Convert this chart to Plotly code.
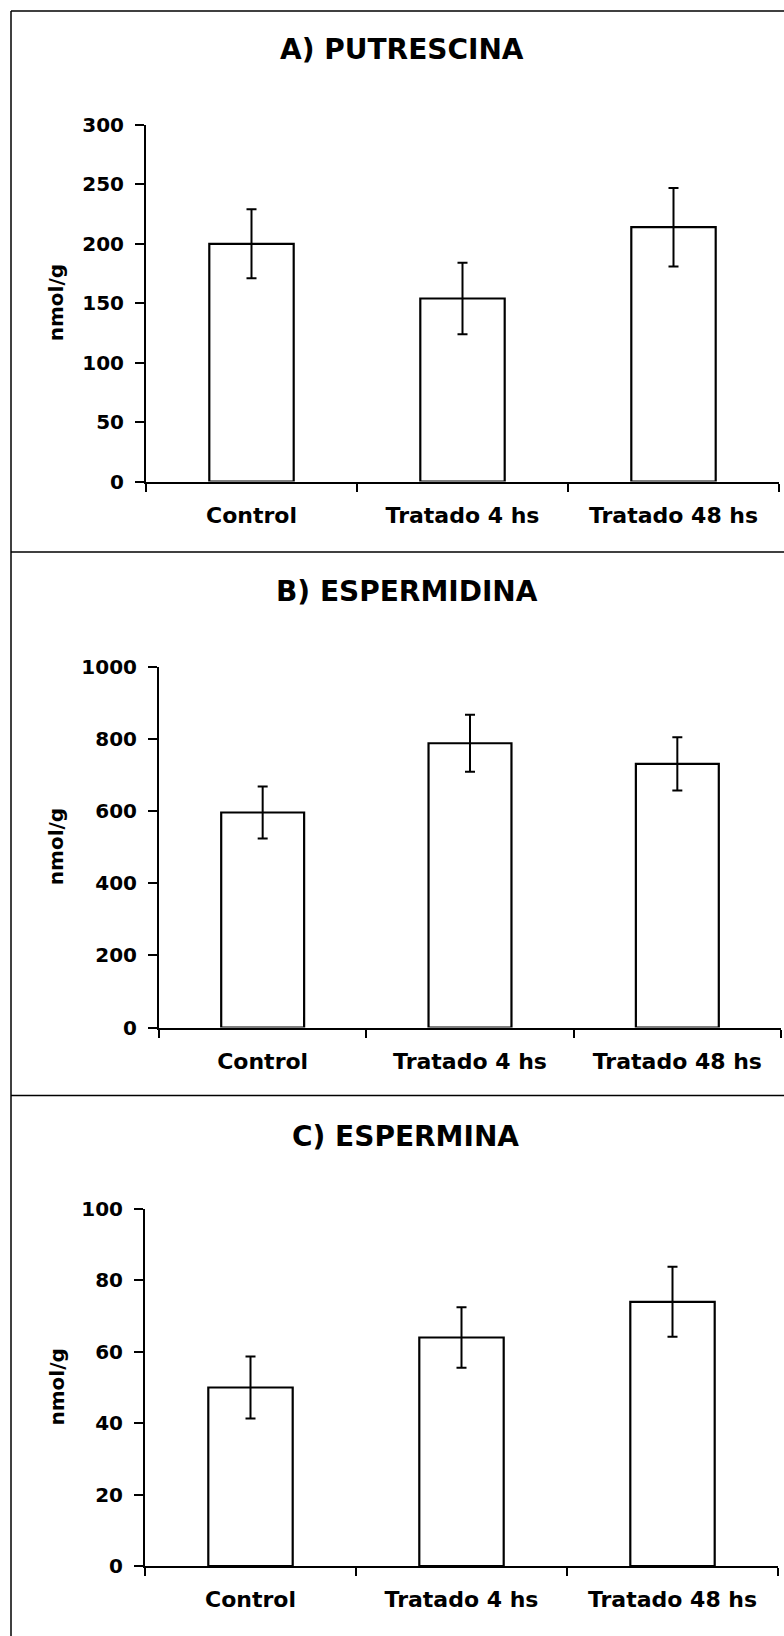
import plotly.graph_objects as go

# ---- data ----
categories = ["Control", "Tratado 4 hs", "Tratado 48 hs"]

putrescina = [200, 154, 214]
putrescina_err = [29, 30, 33]

espermidina = [596, 788, 731]
espermidina_err = [72, 79, 74]

espermina = [50, 64, 74]
espermina_err = [8.7, 8.5, 9.8]

titles = ["A) PUTRESCINA", "B) ESPERMIDINA", "C) ESPERMINA"]
y_title = "nmol/g"
y_ranges = [[0, 300], [0, 1000], [0, 100]]
y_dticks = [50, 200, 20]

W, H = 784, 1636
FONT = "DejaVu Sans, Liberation Sans, Arial, sans-serif"


def px_x(v):
    return v / W


def px_y(v):
    return 1 - v / H


# plot-area boxes in pixels: (left, right, top, bottom)
boxes = [(146, 779, 125, 481.5), (159, 781, 666.8, 1027.5), (145, 778, 1209, 1566)]
title_pos = [(402, 50), (407, 591), (405, 1136)]

series = [(putrescina, putrescina_err), (espermidina, espermidina_err), (espermina, espermina_err)]

fig = go.Figure()
annotations = []
for i, ((vals, errs), box) in enumerate(zip(series, boxes)):
    n = "" if i == 0 else str(i + 1)
    fig.add_trace(go.Bar(
        x=categories, y=vals,
        xaxis="x" + n, yaxis="y" + n,
        width=0.4,
        marker=dict(color="white", line=dict(color="black", width=2.2)),
        error_y=dict(type="data", array=errs, visible=True, color="black", thickness=2, width=5),
        showlegend=False,
    ))
    l, r, t, b = box
    fig.update_layout(**{
        "xaxis" + n: dict(
            domain=[px_x(l), px_x(r)], anchor="y" + n,
            type="category", range=[-0.5, 2.5], automargin=False,
            showline=True, linecolor="black", linewidth=2,
            ticks="outside", tickson="boundaries", ticklen=8, tickwidth=1.5, tickcolor="black",
            showgrid=False, zeroline=False,
            tickfont=dict(family=FONT, size=22, color="black", weight="bold"),
            ticklabelstandoff=13,
        ),
        "yaxis" + n: dict(
            domain=[px_y(b), px_y(t)], anchor="x" + n,
            range=y_ranges[i], dtick=y_dticks[i], tick0=0, automargin=False,
            showline=True, linecolor="black", linewidth=2,
            ticks="outside", ticklen=9, tickwidth=1.5, tickcolor="black",
            showgrid=False, zeroline=False,
            tickfont=dict(family=FONT, size=20, color="black", weight="bold"),
            ticklabelstandoff=7,
        ),
    })
    tx, ty = title_pos[i]
    annotations.append(dict(
        text=titles[i], x=px_x(tx), y=px_y(ty), xref="paper", yref="paper",
        xanchor="center", yanchor="middle", showarrow=False,
        font=dict(family=FONT, size=28, color="black", weight="bold"),
    ))
    annotations.append(dict(
        text=y_title, x=px_x(56), y=px_y((t + b) / 2), xref="paper", yref="paper",
        xanchor="center", yanchor="middle", showarrow=False, textangle=-90,
        font=dict(family=FONT, size=20, color="black", weight="bold"),
    ))

shapes = [
    dict(type="line", xref="paper", yref="paper", x0=px_x(11), x1=px_x(11), y0=px_y(11), y1=0,
         line=dict(color="black", width=1.5)),
    dict(type="line", xref="paper", yref="paper", x0=px_x(11), x1=1, y0=px_y(11), y1=px_y(11),
         line=dict(color="black", width=1.5)),
    dict(type="line", xref="paper", yref="paper", x0=px_x(11), x1=1, y0=px_y(552), y1=px_y(552),
         line=dict(color="black", width=1.5)),
    dict(type="line", xref="paper", yref="paper", x0=px_x(11), x1=1, y0=px_y(1095.5), y1=px_y(1095.5),
         line=dict(color="black", width=1.5)),
]

fig.update_layout(
    width=W, height=H,
    margin=dict(l=0, r=0, t=0, b=0, pad=0, autoexpand=False),
    paper_bgcolor="white", plot_bgcolor="white",
    annotations=annotations, shapes=shapes,
    font=dict(family=FONT, color="black"),
    bargap=0.6,
)

fig.write_html("out.html", config={"displayModeBar": False},
               post_script="document.body.style.margin='0';")
